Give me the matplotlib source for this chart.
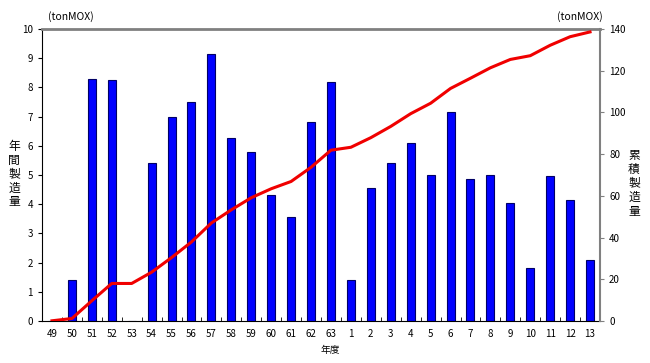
import matplotlib
matplotlib.use("Agg")
import matplotlib.pyplot as plt
import numpy as np

plt.rcParams['font.family'] = ['Noto Sans CJK JP', 'DejaVu Sans']

years = ["49", "50", "51", "52", "53", "54", "55", "56", "57", "58", "59", "60", "61", "62", "63",
         "1", "2", "3", "4", "5", "6", "7", "8", "9", "10", "11", "12", "13"]
annual = [0, 1.4, 8.3, 8.25, 0, 5.4, 7.0, 7.5, 9.15, 6.25, 5.8, 4.3, 3.55, 6.8, 8.2,
          1.4, 4.55, 5.4, 6.1, 5.0, 7.15, 4.85, 5.0, 4.05, 1.8, 4.95, 4.15, 2.1]
cumulative = [0.1, 1.2, 9.7, 18.0, 18.0, 23.4, 30.4, 37.9, 47.0, 53.3, 59.1, 63.4, 66.9, 73.7, 81.9,
              83.3, 87.9, 93.3, 99.4, 104.4, 111.5, 116.4, 121.4, 125.4, 127.2, 132.2, 136.3, 138.6]
left_label = "年間製造量"
right_label = "累積製造量"

fig = plt.figure(figsize=(6.5, 3.63), dpi=100)
ax = fig.add_axes([42/650, 42/363, 558/650, 292/363])
x = np.arange(len(years))
ax.bar(x, annual, width=0.4, color='#0000FF', edgecolor='#000066', linewidth=0.8, zorder=2)
ax.set_xlim(-0.5, len(years) - 0.5)
ax.set_ylim(0, 10)
ax.set_yticks(range(0, 11))
ax.set_xticks(x)
ax.set_xticklabels(years)
ax.set_xticks(np.arange(-0.5, len(years)), minor=True)
ax.tick_params(axis='x', which='major', length=0, labelsize=7, pad=6)
ax.tick_params(axis='x', which='minor', direction='in', length=3, color='black')
ax.tick_params(axis='y', labelsize=7, length=3, direction='out')
ax.spines['top'].set_color('#808080')
ax.spines['top'].set_linewidth(2)
ax.spines['right'].set_visible(False)
ax.spines['left'].set_color('black')
ax.spines['bottom'].set_color('black')

ax2 = ax.twinx()
ax2.plot(x, cumulative, color='#F00000', linewidth=2.2, zorder=3)
ax2.set_ylim(0, 140)
ax2.set_yticks(range(0, 141, 20))
ax2.tick_params(axis='y', labelsize=7, length=3, direction='out', color='#808080')
ax2.spines['right'].set_color('#808080')
ax2.spines['right'].set_linewidth(1.5)
ax2.spines['top'].set_visible(False)
ax2.spines['left'].set_visible(False)
ax2.spines['bottom'].set_visible(False)

fig.text(48/650, 1 - 17/363, "(tonMOX)", fontsize=7.5, ha='left', va='center')
fig.text(603/650, 1 - 17/363, "(tonMOX)", fontsize=7.5, ha='right', va='center')
for i, ch in enumerate(left_label):
    fig.text(14/650, 1 - (146 + i * 14) / 363, ch, fontsize=8.5, ha='center', va='center')
for i, ch in enumerate(right_label):
    fig.text(634/650, 1 - (155 + i * 14) / 363, ch, fontsize=8.5, ha='center', va='center')
fig.text(330/650, 1 - 350/363, "年度", fontsize=7, ha='center', va='center')

fig.savefig("out.png", dpi=100)
